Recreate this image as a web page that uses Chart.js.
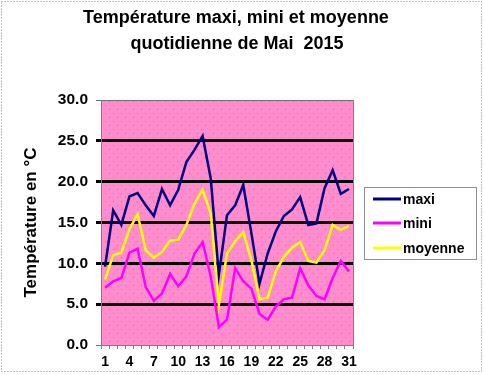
<!DOCTYPE html>
<html>
<head>
<meta charset="utf-8">
<script src="https://cdn.jsdelivr.net/npm/chart.js@4/dist/chart.umd.min.js"></script>
<style>
html,body{margin:0;padding:0;background:#fff;}
#wrap{position:relative;width:484px;height:375px;}
</style>
</head>
<body>
<div id="wrap"><canvas id="c" width="484" height="375"></canvas></div>
<script>
const titleLines = ['Température maxi, mini et moyenne', 'quotidienne de Mai  2015'];
const yAxisTitle = 'Température en °C';
const days = ['1','2','3','4','5','6','7','8','9','10','11','12','13','14','15','16','17','18','19','20','21','22','23','24','25','26','27','28','29','30','31'];
const maxi = [9.6,16.5,14.7,18.2,18.6,17.1,15.8,19.1,17.1,19.0,22.4,23.9,25.6,20.4,8.6,15.9,17.1,19.6,13.7,7.5,11.2,13.9,15.8,16.6,18.1,14.7,14.9,19.2,21.4,18.5,19.1];
const mini = [7.0,7.8,8.2,11.3,11.8,7.1,5.4,6.3,8.7,7.2,8.4,11.2,12.6,8.4,2.2,3.1,9.4,7.8,6.9,3.8,3.1,4.7,5.6,5.8,9.4,7.3,6.0,5.6,8.2,10.3,9.0];
const moyenne = [8.0,11.0,11.3,14.2,16.0,11.6,10.7,11.4,12.8,12.9,14.7,17.3,19.0,16.1,4.9,11.2,12.7,13.8,10.4,5.6,5.8,9.0,10.8,11.9,12.6,10.3,10.1,11.6,14.7,14.1,14.6];
const yTicks = [0,5,10,15,20,25,30];

const FONT = 'Arial, "Liberation Sans", sans-serif';

function makePattern(ctx){
  const t = document.createElement('canvas');
  t.width = 8; t.height = 8;
  const c = t.getContext('2d');
  c.fillStyle = '#ff8ccc';
  c.fillRect(0,0,8,8);
  c.fillStyle = '#ee64a8';
  c.fillRect(1,1,1,1);
  c.fillRect(5,5,1,1);
  return ctx.createPattern(t,'repeat');
}

const decor = {
  id:'decor',
  beforeDraw(chart){
    const ctx = chart.ctx, a = chart.chartArea;
    ctx.save();
    ctx.fillStyle = '#fff';
    ctx.fillRect(0,0,chart.width,chart.height);
    ctx.fillStyle = makePattern(ctx);
    ctx.fillRect(a.left,a.top,a.right-a.left,a.bottom-a.top);
    ctx.strokeStyle = '#808080';
    ctx.lineWidth = 1;
    ctx.setLineDash([1,2]);
    ctx.strokeRect(1.5,1.5,chart.width-4,chart.height-5);
    ctx.setLineDash([]);
    ctx.fillStyle = '#000';
    ctx.font = 'bold 18px ' + FONT;
    ctx.textAlign = 'center';
    ctx.textBaseline = 'middle';
    ctx.fillText(titleLines[0], 236, 18);
    ctx.fillText(titleLines[1], 237, 44);
    ctx.restore();
  },
  afterDraw(chart){
    const ctx = chart.ctx, a = chart.chartArea;
    ctx.save();
    ctx.strokeStyle = '#808080';
    ctx.lineWidth = 1;
    ctx.beginPath();
    ctx.moveTo(a.right+0.5, a.top);
    ctx.lineTo(a.right+0.5, a.bottom);
    ctx.stroke();
    const lx = 364, ly = 187, lw = 112, lh = 72;
    ctx.fillStyle = '#fff';
    ctx.fillRect(lx,ly,lw,lh);
    ctx.strokeStyle = '#909090';
    ctx.strokeRect(lx+0.5,ly+0.5,lw,lh);
    ctx.font = 'bold 14px ' + FONT;
    ctx.textAlign = 'left';
    ctx.textBaseline = 'middle';
    const rows = [199,223,248];
    chart.data.datasets.forEach((ds,i)=>{
      ctx.strokeStyle = ds.borderColor;
      ctx.lineWidth = 3;
      ctx.beginPath();
      ctx.moveTo(373, rows[i]);
      ctx.lineTo(401, rows[i]);
      ctx.stroke();
      ctx.fillStyle = '#000';
      ctx.fillText(ds.label, 403, rows[i]+1);
    });
    ctx.restore();
  }
};

new Chart(document.getElementById('c'), {
  type:'line',
  data:{
    labels: days,
    datasets:[
      {label:'maxi', data:maxi, borderColor:'#000080', backgroundColor:'#000080', borderWidth:2.5, pointRadius:0, tension:0},
      {label:'mini', data:mini, borderColor:'#ff00ff', backgroundColor:'#ff00ff', borderWidth:2.5, pointRadius:0, tension:0},
      {label:'moyenne', data:moyenne, borderColor:'#ffff00', backgroundColor:'#ffff00', borderWidth:2.5, pointRadius:0, tension:0}
    ]
  },
  options:{
    responsive:false,
    animation:false,
    devicePixelRatio:1,
    layout:{padding:{top:100,right:131,left:0,bottom:0}},
    plugins:{legend:{display:false}, title:{display:false}, tooltip:{enabled:false}},
    scales:{
      x:{
        offset:true,
        grid:{offset:true, drawOnChartArea:false, tickLength:4, color:'#808080', lineWidth:1},
        border:{color:'#808080', width:1},
        ticks:{autoSkip:false, maxRotation:0, padding:5, color:'#000', font:{family:FONT, weight:'bold', size:14},
          callback:function(v,i){ return (i % 3 === 0) ? days[i] : ''; }},
        afterFit(s){ s.height = 30; }
      },
      y:{
        min:0, max:30,
        afterBuildTicks(s){ s.ticks = yTicks.map(v=>({value:v})); },
        grid:{
          color:(c)=> (c.tick && (c.tick.value===0 || c.tick.value===30)) ? '#707070' : '#000',
          lineWidth:(c)=> (c.tick && (c.tick.value===0 || c.tick.value===30)) ? 1 : 3,
          tickLength:5
        },
        border:{color:'#808080', width:1},
        ticks:{padding:8, color:'#000', font:{family:FONT, weight:'bold', size:15.5},
          callback:(v)=> Number(v).toFixed(1)},
        title:{display:true, text:yAxisTitle, color:'#000', font:{family:FONT, weight:'bold', size:17}, padding:{top:21,bottom:0}},
        afterFit(s){ s.width = 101; }
      }
    }
  },
  plugins:[decor]
});
</script>
</body>
</html>
